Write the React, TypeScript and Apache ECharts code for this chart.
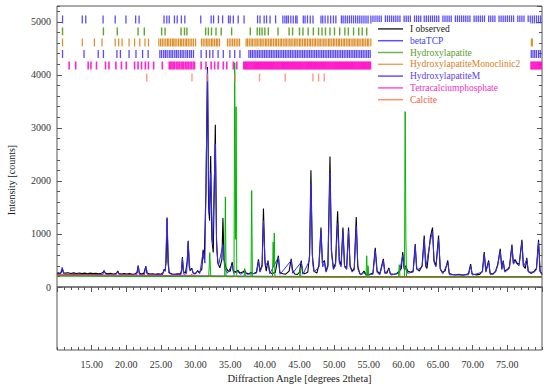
import React, { useEffect, useRef } from 'react';
import * as echarts from 'echarts';

const FONT = "'Liberation Serif', 'Times New Roman', serif";

// ---------- profile data: [2theta, counts] ----------
const observed: [number, number][] = [
  [10.0,258],[10.3,266],[10.5,255],[10.65,290],[10.78,345],[10.92,270],[11.2,262],[11.6,270],[12.0,256],[12.4,266],[12.8,254],[13.2,264],[13.6,252],[14.0,262],[14.4,250],[14.8,262],[15.2,252],[15.6,260],[16.0,248],[16.4,258],[16.65,272],[16.8,312],[16.95,262],[17.3,250],[17.7,258],[18.1,246],[18.5,256],[18.65,272],[18.78,302],[18.92,254],[19.3,246],[19.7,254],[20.1,244],[20.5,252],[20.9,242],[21.3,250],[21.55,272],[21.72,405],[21.88,262],[22.2,246],[22.55,262],[22.82,392],[22.98,262],[23.4,244],[23.8,250],[24.2,240],[24.6,248],[25.0,240],[25.3,268],[25.45,332],[25.6,300],[25.75,480],[25.88,1310],[26.02,460],[26.2,270],[26.6,246],[27.0,240],[27.4,248],[27.8,246],[27.98,300],[28.1,565],[28.24,290],[28.55,270],[28.8,480],[28.93,870],[29.08,380],[29.25,310],[29.45,355],[29.65,262],[30.0,252],[30.3,310],[30.5,270],[30.9,330],[31.08,700],[31.25,520],[31.5,1800],[31.72,4150],[31.88,1500],[32.02,1250],[32.18,2470],[32.35,900],[32.55,650],[32.85,3060],[33.02,900],[33.2,460],[33.5,360],[33.8,520],[33.95,1300],[34.1,520],[34.4,360],[34.7,300],[35.0,300],[35.28,470],[35.45,300],[35.8,285],[36.1,315],[36.4,262],[36.8,282],[37.1,312],[37.3,262],[37.7,250],[38.0,272],[38.4,250],[38.8,285],[39.08,520],[39.28,300],[39.6,410],[39.8,1480],[40.0,500],[40.2,300],[40.45,500],[40.7,282],[41.0,252],[41.5,272],[41.95,590],[42.15,272],[42.6,250],[43.0,242],[43.5,300],[43.8,530],[44.0,320],[44.3,244],[44.7,236],[45.0,282],[45.25,500],[45.45,262],[45.8,252],[46.2,282],[46.45,600],[46.65,2200],[46.85,600],[47.1,300],[47.5,262],[47.8,410],[48.1,1120],[48.3,450],[48.6,500],[48.8,300],[49.1,410],[49.4,2460],[49.6,700],[49.9,350],[50.2,450],[50.5,1430],[50.75,500],[51.0,410],[51.27,1120],[51.5,400],[51.8,350],[52.08,1120],[52.3,400],[52.6,300],[52.9,350],[53.19,1320],[53.4,400],[53.7,250],[54.0,240],[54.3,300],[54.6,240],[55.0,232],[55.6,262],[55.93,740],[56.2,300],[56.6,252],[57.1,530],[57.3,280],[57.6,260],[57.9,360],[58.1,250],[58.6,240],[59.0,250],[59.4,300],[59.7,350],[59.9,660],[60.1,350],[60.35,400],[60.6,300],[61.0,280],[61.4,300],[61.7,810],[61.9,350],[62.3,300],[62.7,400],[63.0,970],[63.2,400],[63.4,350],[63.9,950],[64.2,1120],[64.4,500],[64.7,400],[65.07,970],[65.3,350],[65.6,280],[66.0,300],[66.4,500],[66.6,260],[67.0,236],[67.5,226],[68.0,238],[68.5,222],[69.0,230],[69.4,256],[69.7,430],[69.9,250],[70.5,228],[71.0,238],[71.4,300],[71.66,660],[71.9,300],[72.3,500],[72.5,260],[72.9,240],[73.3,300],[73.6,420],[73.97,720],[74.2,350],[74.4,500],[74.6,300],[75.0,330],[75.3,380],[75.66,800],[75.85,450],[76.1,520],[76.4,450],[76.7,430],[77.1,890],[77.3,400],[77.6,350],[77.8,550],[78.0,300],[78.4,256],[78.9,300],[79.2,350],[79.5,890],[79.7,300],[80.0,250]
];

const betaTCP: [number, number][] = [
  [10,235],[10.5,240],[10.75,370],[11.0,240],[12,238],[14,232],[16.6,235],[16.84,300],[17.1,232],[18.5,230],[18.78,290],[19.0,230],[21.5,228],[21.72,400],[21.9,232],[22.6,230],[22.82,385],[23.1,230],[25.2,228],[25.45,320],[25.65,300],[25.88,1290],[26.15,260],[26.5,240],[27.9,235],[28.1,540],[28.3,240],[28.7,250],[28.93,840],[29.2,300],[29.45,340],[29.75,240],[30.3,290],[30.6,250],[31.08,650],[31.35,450],[31.72,4100],[31.95,1400],[32.18,2150],[32.45,800],[32.85,2700],[33.05,700],[33.3,400],[33.95,800],[34.2,350],[34.6,260],[35.28,420],[35.5,260],[36.1,290],[36.5,240],[37.1,290],[37.4,240],[38.8,260],[39.08,490],[39.3,280],[39.6,380],[39.8,1250],[40.05,400],[40.45,470],[40.7,250],[41.95,560],[42.2,240],[43.8,500],[44.0,260],[45.25,470],[45.5,240],[46.45,500],[46.65,1950],[46.9,450],[47.1,280],[47.8,380],[48.1,1050],[48.35,380],[48.6,470],[48.85,280],[49.1,380],[49.4,2150],[49.65,600],[49.9,330],[50.2,400],[50.5,1200],[50.75,450],[51.0,380],[51.27,1050],[51.5,380],[51.8,330],[52.08,1050],[52.3,380],[52.6,280],[52.9,320],[53.19,1150],[53.45,330],[53.8,230],[54.3,270],[54.6,225],[55.6,240],[55.93,680],[56.2,270],[56.6,230],[57.1,500],[57.35,250],[57.9,340],[58.2,225],[59.4,260],[59.9,600],[60.15,300],[60.35,360],[60.6,260],[61.4,280],[61.7,760],[61.95,320],[62.7,380],[63.0,900],[63.25,380],[63.9,880],[64.2,1050],[64.45,450],[64.7,380],[65.07,900],[65.35,320],[65.7,250],[66.4,460],[66.65,230],[69.4,230],[69.7,400],[69.95,225],[71.4,280],[71.66,620],[71.9,280],[72.3,470],[72.55,230],[73.3,280],[73.6,400],[73.97,680],[74.2,330],[74.4,470],[74.65,280],[75.3,350],[75.66,760],[75.9,430],[76.1,490],[76.4,430],[76.7,400],[77.1,840],[77.35,380],[77.8,520],[78.05,280],[78.9,280],[79.2,330],[79.5,850],[79.75,280],[80,230]
];

const hydroxylapatite: [number, number][] = [
  [10,205],[31.9,195],[32.05,650],[32.2,195],[34.2,195],[34.3,1700],[34.4,195],[35.55,195],[35.65,4230],[35.75,900],[35.85,3400],[35.95,195],[37.0,195],[37.1,350],[37.2,195],[38.0,195],[38.1,1820],[38.2,195],[41.1,195],[41.2,850],[41.28,400],[41.36,1020],[41.45,195],[45.0,195],[45.1,350],[45.2,195],[54.6,195],[54.7,590],[54.8,195],[54.9,400],[55.0,195],[59.3,195],[59.4,420],[59.5,195],[60.15,195],[60.25,3400],[60.35,960],[60.45,195],[80,190]
];

const hydroxylapatiteMonoclinic2: [number, number][] = [
  [10,222],[20,214],[30,204],[40,196],[50,192],[60,190],[70,192],[80,194]
];

const hydroxylapatiteM: [number, number][] = [
  [10,228],[20,220],[30,210],[40,202],[50,198],[60,196],[70,196],[80,198]
];

const tetracalciumphosphate: [number, number][] = [
  [10,216],[20,208],[30,200],[40,194],[50,190],[60,188],[70,188],[80,190]
];

const calcite: [number, number][] = [
  [10,225],[20,215],[29.3,205],[29.45,240],[29.6,205],[40,194],[50,188],[60,186],[70,186],[80,188]
];

// ---------- reflection positions (2theta) for the marker rows ----------
const ticksBetaTCP: number[] = [
  10.8,13.65,14.15,16.65,18.4,19.95,21.35,21.85,25.45,25.85,26.2,26.95,27.35,27.95,28.45,30.75,32.25,32.6,33.3,33.9,34.75,35.0,35.45,36.15,37.0,38.95,39.3,39.9,40.25,40.75,41.55,42.6,42.9,43.15,43.4,43.75,44.1,44.45,44.65,45.55,45.8,46.15,46.55,46.95,48.1,48.35,48.7,49.1,49.5,49.9,50.25,51.05,51.3,51.6,51.9,52.2,52.5,52.8,53.1,53.4,53.7,54.0,54.3,54.6,54.9,
  55.3,55.6,55.9,56.2,56.5,56.8,57.4,57.7,58.0,58.3,58.6,58.9,59.2,59.5,60.1,60.4,60.7,61.0,61.6,61.9,62.2,62.5,63.0,63.3,63.6,63.9,64.2,64.5,64.8,65.1,65.7,66.0,66.3,66.6,66.9,67.5,67.8,68.1,68.4,68.7,69.0,69.3,69.6,70.2,70.5,70.8,71.1,71.4,71.7,72.3,72.6,72.9,73.2,73.8,74.1,74.4,74.7,75.0,75.3,75.6,75.9,76.5,76.8,77.1,77.4,78.0,78.3,78.6,78.9,79.2,79.5,79.8
];
const ticksHydroxylapatite: number[] = [
  10.8,16.7,18.7,21.7,22.6,25.1,25.6,27.9,28.4,28.75,31.45,31.85,32.3,32.95,33.7,35.2,37.9,38.9,39.25,39.6,40.0,40.5,41.9,43.5,44.0,45.0,45.5,46.25,47.0,47.75,48.25,48.75,49.4,50.05,50.8,51.55,52.05,52.8,53.55,54.05,54.7,78.0,78.15
];
const ticksHydroxylapatiteMonoclinic2: number[] = [
  10.8,13.65,15.4,16.5,18.4,18.9,19.4,20.4,21.2,21.95,22.7,23.2,24.7,24.95,25.2,25.45,25.7,25.95,26.15,26.4,26.65,26.85,27.05,27.3,27.55,27.8,28.0,28.25,28.5,28.7,28.95,29.2,29.45,29.7,30.0,30.85,31.1,31.35,31.6,31.8,32.05,32.3,32.5,32.75,33.0,33.2,33.45,34.6,34.85,35.1,35.35,35.6,35.85,36.1,36.35,37.3,37.5,37.75,38.0,38.2,38.45,38.7,38.9,39.15,39.4,39.6,39.85,40.1,40.3,40.55,40.8,41.0,41.25,41.5,41.7,41.95,42.2,42.4,42.65,42.9,43.1,43.35,43.6,43.8,44.05,44.3,44.5,44.75,45.0,45.2,45.45,45.7,45.9,46.15,46.4,46.6,46.85,47.1,47.3,47.55,47.8,48.0,48.25,48.5,48.7,48.95,49.2,49.4,49.65,49.9,50.1,50.35,50.6,50.8,51.05,51.3,51.5,51.75,52.0,52.2,52.45,52.7,52.9,53.15,53.4,53.6,53.85,54.1,54.3,54.55,54.8,55.0,55.3,78.0,78.15,78.45,78.6
];
const ticksHydroxylapatiteM: number[] = [
  10.8,13.9,15.95,16.7,18.65,19.15,20.4,21.4,22.35,23.15,24.85,25.1,25.4,25.65,25.9,26.2,26.45,26.7,27.0,27.25,27.5,27.8,28.05,28.3,28.6,28.85,29.15,29.4,29.7,30.8,31.55,32.05,32.5,33.25,34.0,34.95,35.65,36.4,37.7,37.95,38.2,38.45,38.7,38.95,39.2,39.45,39.7,39.95,40.2,40.45,40.7,40.95,41.2,41.45,41.7,41.95,42.2,42.45,42.7,42.95,43.2,43.45,43.7,43.95,44.2,44.45,44.7,44.95,45.2,45.45,45.7,45.95,46.2,46.45,46.7,46.95,47.2,47.45,47.7,47.95,48.2,48.45,48.7,48.95,49.2,49.45,49.7,49.95,50.2,50.45,50.7,50.95,51.2,51.45,51.7,51.95,52.2,52.45,52.7,52.95,53.2,53.45,53.7,53.95,54.2,54.45,54.7,54.95,55.2,77.8,78.0,78.2,78.45,78.7,78.95,79.2,79.5,79.75
];
const ticksTetracalciumphosphate: number[] = [
  11.75,12.7,14.5,14.9,15.7,17.0,17.5,18.5,19.3,20.0,21.2,21.7,22.2,22.75,23.2,23.95,25.2,26.2,26.4,26.6,26.8,27.0,27.25,27.45,27.65,27.9,28.1,28.3,28.55,28.75,28.95,29.2,29.4,29.65,29.85,30.8,31.5,32.25,32.75,33.25,34.0,34.5,35.45,35.95,36.95,37.1,37.25,37.4,37.55,37.7,37.85,38.0,38.15,38.3,38.45,38.6,38.75,38.9,39.05,39.2,39.35,39.5,39.65,39.8,39.95,40.1,40.25,40.4,40.55,40.7,40.85,41.0,41.15,41.3,41.45,41.6,41.75,41.9,42.05,42.2,42.35,42.5,42.65,42.8,42.95,43.1,43.25,43.4,43.55,43.7,43.85,44.0,44.15,44.3,44.45,44.6,44.75,44.9,45.05,45.2,45.35,45.5,45.65,45.8,45.95,46.1,46.25,46.4,46.55,46.7,46.85,47.0,47.15,47.3,47.45,47.6,47.75,47.9,48.05,48.2,48.35,48.5,48.65,48.8,48.95,49.1,49.25,49.4,49.55,49.7,49.85,50.0,50.15,50.3,50.45,50.6,50.75,50.9,51.05,51.2,51.35,51.5,51.65,51.8,51.95,52.1,52.25,52.4,52.55,52.7,52.85,53.0,53.15,53.3,53.45,53.6,53.75,53.9,54.05,54.2,54.35,54.5,54.65,54.8,54.95,55.1,55.25,78.1,78.25,78.4,78.55,78.7,78.85,79.0,79.15,79.3,79.45,79.6,79.75,79.9
];
const ticksCalcite: number[] = [22.95,29.48,31.65,35.73,39.23,42.94,46.94,47.75,48.57,77.95];

// data-unit heights of the six marker rows
const ROW_Y = [5047, 4820, 4612, 4395, 4178, 3950];

const SERIES = [
  { name: 'I observed', data: observed, color: '#000000', legendColor: '#303030', text: '#202020', width: 1.1 },
  { name: 'betaTCP', data: betaTCP, color: '#3a2cf0', legendColor: '#5a50ff', text: '#3f3ff0', width: 1 },
  { name: 'Hydroxylapatite', data: hydroxylapatite, color: '#00b400', legendColor: '#74b050', text: '#5c9a2c', width: 1 },
  { name: 'HydroxylapatiteMonoclinic2', data: hydroxylapatiteMonoclinic2, color: '#e07a10', legendColor: '#e4a468', text: '#d8801c', width: 1 },
  { name: 'HydroxylapatiteM', data: hydroxylapatiteM, color: '#5a3cf0', legendColor: '#6a4cf4', text: '#5c40f0', width: 1 },
  { name: 'Tetracalciumphosphate', data: tetracalciumphosphate, color: '#ff20c8', legendColor: '#ff50d8', text: '#f030c0', width: 1 },
  { name: 'Calcite', data: calcite, color: '#ff4a2a', legendColor: '#ff9070', text: '#f06040', width: 1.2 },
];

const TICK_ROWS = [
  { data: ticksBetaTCP, color: '#4a3cf2', w: 1.3 },
  { data: ticksHydroxylapatite, color: '#4f9a1c', w: 1.4 },
  { data: ticksHydroxylapatiteMonoclinic2, color: '#d8800e', w: 1.2 },
  { data: ticksHydroxylapatiteM, color: '#4a36f0', w: 1.3 },
  { data: ticksTetracalciumphosphate, color: '#ff10c8', w: 1.6 },
  { data: ticksCalcite, color: '#ff9070', w: 1.4 },
];

export default function App() {
  const ref = useRef<HTMLDivElement>(null);
  useEffect(() => {
    if (!ref.current) return;
    const chart = echarts.init(ref.current, null, { renderer: 'svg' });
    const axisCol = '#555555';
    const tickAxis = (gridIndex: number, position: string, interval: number, len: number, isX: boolean, extra: any = {}) => ({
      type: 'value', gridIndex, position, min: isX ? 10 : 0, max: isX ? 80 : 5300, interval,
      axisLine: { show: false },
      axisTick: { show: true, inside: true, length: len, lineStyle: { color: axisCol, width: 1 } },
      axisLabel: { show: false },
      splitLine: { show: false },
      ...extra,
    });
    const option: any = {
      animation: false,
      backgroundColor: '#ffffff',
      textStyle: { fontFamily: FONT },
      grid: [
        { left: 57, right: 8, top: 6, height: 281, show: true, borderColor: axisCol, borderWidth: 1, backgroundColor: 'transparent' },
        { left: 57, right: 8, top: 287, height: 63, show: true, borderColor: axisCol, borderWidth: 1, backgroundColor: 'transparent' },
      ],
      xAxis: [
        { type: 'value', gridIndex: 0, min: 10, max: 80, show: false },
        tickAxis(0, 'top', 5, 5, true),
        tickAxis(0, 'top', 1, 3, true),
        tickAxis(1, 'bottom', 5, 5, true, {
          axisLabel: {
            show: true, margin: 9, showMinLabel: false, showMaxLabel: false,
            formatter: (v: number) => v.toFixed(2), fontFamily: FONT, fontSize: 10, color: '#333',
          },
          name: 'Diffraction Angle [degrees 2theta]', nameLocation: 'middle', nameGap: 23,
          nameTextStyle: { fontFamily: FONT, fontSize: 10.5, color: '#222' },
        }),
        tickAxis(1, 'bottom', 1, 3, true),
      ],
      yAxis: [
        tickAxis(0, 'left', 1000, 5, false, {
          axisLabel: {
            show: true, margin: 6, showMaxLabel: false, fontFamily: FONT, fontSize: 10, color: '#333',
            formatter: (v: number) => String(Math.round(v)),
          },
        }),
        tickAxis(0, 'left', 200, 3, false),
        tickAxis(0, 'right', 1000, 5, false),
        tickAxis(0, 'right', 200, 3, false),
        { type: 'value', gridIndex: 1, min: 0, max: 1, show: false },
      ],
      legend: {
        orient: 'vertical', left: 372, top: 22, padding: [1, 10, 6, 6], backgroundColor: '#ffffff',
        itemWidth: 25, itemHeight: 1.5, itemGap: 0, icon: 'rect', z: 20, selectedMode: false,
        textStyle: { fontFamily: FONT, fontSize: 9.5, lineHeight: 11.8, padding: [0, 0, 0, 2] },
        data: SERIES.map((s) => ({
          name: s.name, itemStyle: { color: s.legendColor },
          textStyle: { color: s.text, fontFamily: FONT, fontSize: 9.5, lineHeight: 11.8 },
        })),
      },
      graphic: [
        {
          type: 'text', x: 11, y: 180, rotation: Math.PI / 2, z: 10,
          style: { text: 'Intensity [counts]', font: `10px ${FONT}`, fill: '#222', align: 'center', verticalAlign: 'middle' },
        },
      ],
      series: [
        ...SERIES.map((s, i) => ({
          name: s.name, type: 'line', xAxisIndex: 0, yAxisIndex: 0, data: s.data,
          symbol: 'none', showSymbol: false, z: 2 + (i === 2 ? 1 : 0),
          lineStyle: { color: s.color, width: s.width }, itemStyle: { color: s.color },
        })),
        ...TICK_ROWS.map((r, i) => ({
          name: 'marks' + i, type: 'scatter', xAxisIndex: 0, yAxisIndex: 0,
          data: r.data.map((x) => [x, ROW_Y[i]]),
          symbol: 'rect', symbolSize: [r.w, 8], z: 4,
          itemStyle: { color: r.color, opacity: 0.9 },
        })),
      ],
    };
    chart.setOption(option);
    return () => chart.dispose();
  }, []);
  return <div ref={ref} style={{ position: 'fixed', left: 0, top: 0, width: 550, height: 389, background: '#fff' }} />;
}
